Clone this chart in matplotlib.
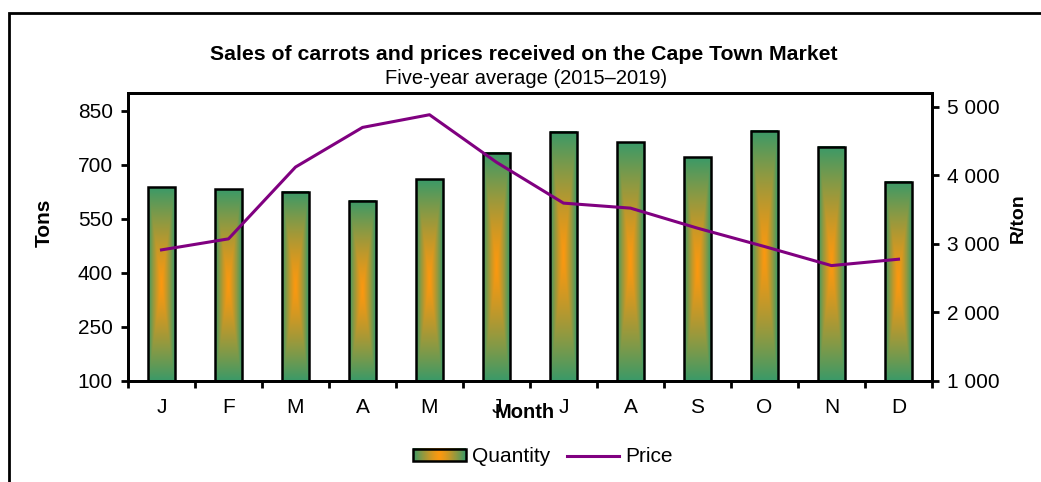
import numpy as np
import matplotlib
matplotlib.use("Agg")
import matplotlib.pyplot as plt
from matplotlib.patches import Rectangle
from matplotlib.lines import Line2D
from matplotlib.legend_handler import HandlerBase
from matplotlib.image import BboxImage
from matplotlib.transforms import Bbox, TransformedBbox
from matplotlib.ticker import FuncFormatter

plt.rcParams['font.family'] = ['Liberation Sans', 'DejaVu Sans']

# ---- data ----
months = ["J", "F", "M", "A", "M", "J", "J", "A", "S", "O", "N", "D"]
quantity = [638, 632, 626, 601, 660, 734, 792, 763, 722, 795, 751, 654]
price = [2912, 3073, 4120, 4698, 4883, 4190, 3594, 3521, 3229, 2961, 2683, 2776]

GREEN = np.array([0x3a, 0x9a, 0x68]) / 255.0
ORANGE = np.array([0xfb, 0x98, 0x10]) / 255.0


def gradient(nx=40, ny=200):
    # rectangular "from centre" gradient: orange middle, green edges
    u = np.linspace(-1, 1, nx)
    v = np.linspace(-1, 1, ny)
    U, V = np.meshgrid(u, v)
    t = np.maximum(np.abs(U), np.abs(V))
    t = np.clip(t, 0, 1) ** 1.3
    img = ORANGE[None, None, :] * (1 - t[..., None]) + GREEN[None, None, :] * t[..., None]
    return img


class GradHandler(HandlerBase):
    def create_artists(self, legend, orig_handle, xdescent, ydescent,
                       width, height, fontsize, trans):
        bb = TransformedBbox(Bbox.from_bounds(-xdescent, -ydescent, width, height), trans)
        im = BboxImage(bb, interpolation='bilinear')
        u = np.linspace(-1, 1, 60)
        g = np.abs(u)[None, :].repeat(10, axis=0) ** 1.3
        im.set_data(ORANGE[None, None, :] * (1 - g[..., None]) + GREEN[None, None, :] * g[..., None])
        rect = Rectangle((-xdescent, -ydescent), width, height, fc='none',
                         ec='black', lw=1.8, transform=trans)
        return [im, rect]


W, H = 1041, 482
fig = plt.figure(figsize=(W / 100, H / 100), dpi=100)
ax = fig.add_axes([128 / W, 1 - 381 / H, 804 / W, 288 / H])

x = np.arange(len(months))
bw = 0.4
grad = gradient()
for xi, q in zip(x, quantity):
    ax.imshow(grad, extent=(xi - bw / 2, xi + bw / 2, 100, q), aspect='auto',
              origin='lower', interpolation='bilinear', zorder=2)
    ax.add_patch(Rectangle((xi - bw / 2, 100), bw, q - 100, fc='none',
                           ec='black', lw=1.8, zorder=3))

ax.set_xlim(-0.5, len(months) - 0.5)
ax.set_ylim(100, 900)
ax.set_yticks(np.arange(100, 851, 150))
ax.set_xticks(x)
ax.set_xticklabels(months)
ax.set_xticks(np.arange(-0.5, len(months), 1), minor=True)
ax.tick_params(axis='x', which='major', length=0, pad=12, labelsize=15)
ax.tick_params(axis='x', which='minor', length=5, width=2, direction='out')
ax.tick_params(axis='y', length=5, width=2, direction='out', pad=6, labelsize=15)
for s in ax.spines.values():
    s.set_linewidth(2)

ax2 = ax.twinx()
ax2.plot(x, price, color='#800080', lw=2.2, zorder=4)
ax2.set_ylim(1000, 5200)
ax2.set_yticks(np.arange(1000, 5001, 1000))
ax2.yaxis.set_major_formatter(FuncFormatter(lambda v, p: f"{int(v):,}".replace(",", " ")))
ax2.tick_params(axis='y', length=5, width=2, direction='out', pad=6, labelsize=15)
for s in ax2.spines.values():
    s.set_linewidth(2)

fig.text(44 / W, 1 - 223 / H, "Tons", rotation=90, ha='center', va='center',
         fontsize=15, fontweight='bold')
fig.text(1018 / W, 1 - 218 / H, "R/ton", rotation=90, ha='center', va='center',
         fontsize=14, fontweight='bold')
fig.text(525 / W, 1 - 412 / H, "Month", ha='center', va='center',
         fontsize=14.5, fontweight='bold')
fig.text(524 / W, 1 - 55 / H, "Sales of carrots and prices received on the Cape Town Market",
         ha='center', va='center', fontsize=15.3, fontweight='bold')
fig.text(526 / W, 1 - 78 / H, "Five-year average (2015\u20132019)",
         ha='center', va='center', fontsize=14.5)

# outer frame (cropped on right and bottom)
fig.add_artist(Rectangle((9 / W, -0.1), 1.2, 1.1 - 13 / H, transform=fig.transFigure,
                         fill=False, ec='black', lw=2))

qh = Rectangle((0, 0), 1, 1)
ph = Line2D([], [], color='#800080', lw=2.2)
fig.legend([qh, ph], ["Quantity", "Price"], handler_map={qh: GradHandler()},
           loc='center', bbox_to_anchor=(543 / W, 1 - 457 / H), ncol=2, frameon=False,
           fontsize=15, handlelength=2.5, handleheight=0.55, columnspacing=0.8,
           handletextpad=0.3)

fig.savefig("out.png", dpi=100)
